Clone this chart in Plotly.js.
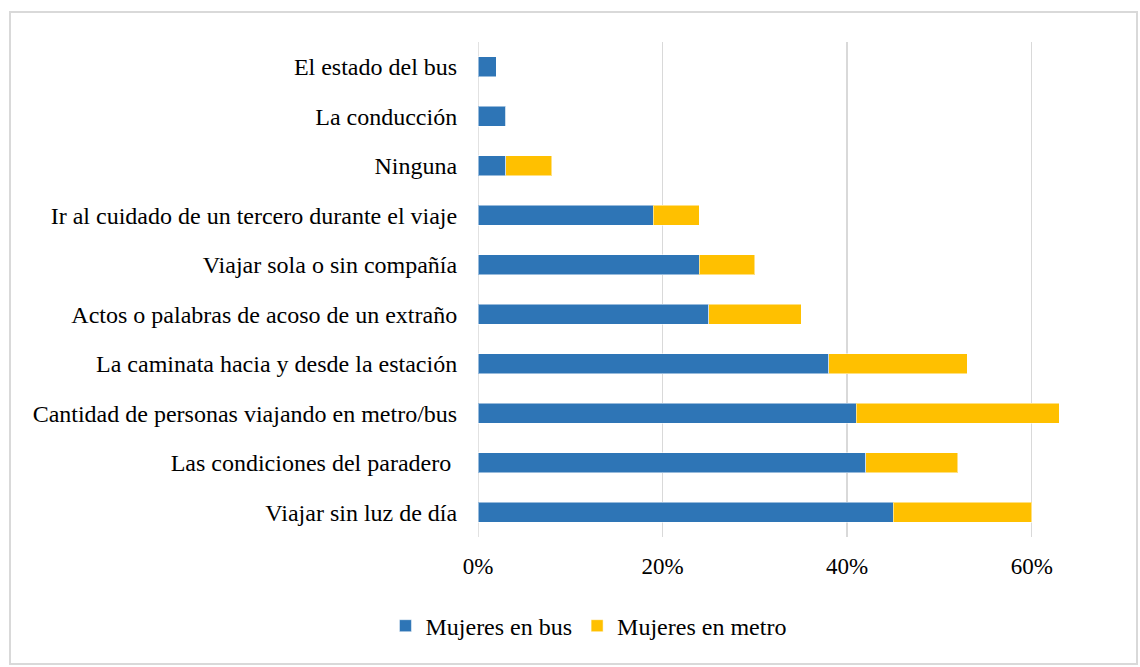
<!DOCTYPE html>
<html>
<head>
<meta charset="utf-8">
<script src="https://cdn.plot.ly/plotly-3.0.1.min.js"></script>
<style>
  html, body { margin: 0; padding: 0; background: #fff; }
  #wrap { position: relative; width: 1140px; height: 667px; }
  #chart { position: absolute; left: 0; top: 0; width: 1140px; height: 667px; }
  #frame { position: absolute; left: 9px; top: 11px; width: 1125px; height: 650px; border: 2px solid #d9d9d9; pointer-events: none; }
</style>
</head>
<body>
<div id="wrap">
  <div id="chart"></div>
  <div id="frame"></div>
</div>
<script>
const categories = [
  "Viajar sin luz de día",
  "Las condiciones del paradero\u00a0",
  "Cantidad de personas viajando en metro/bus",
  "La caminata hacia y desde la estación",
  "Actos o palabras de acoso de un extraño",
  "Viajar sola o sin compañía",
  "Ir al cuidado de un tercero durante el viaje",
  "Ninguna",
  "La conducción",
  "El estado del bus"
];
const busValues   = [0.45, 0.42, 0.41, 0.38, 0.25, 0.24, 0.19, 0.03, 0.03, 0.02];
const metroValues = [0.15, 0.10, 0.22, 0.15, 0.10, 0.06, 0.05, 0.05, 0.00, 0.00];
const xTickValues = [0, 0.2, 0.4, 0.6];
const xTickLabels = ["0%", "20%", "40%", "60%"];
const seriesNames = ["Mujeres en bus", "Mujeres en metro"];

const font = { family: "Liberation Serif, Times New Roman, serif", size: 24, color: "#000" };
const tickFontX = { family: "Liberation Serif, Times New Roman, serif", size: 23, color: "#000" };

const traces = [
  {
    type: "bar", orientation: "h", name: seriesNames[0],
    y: categories, x: busValues,
    marker: { color: "#2E75B6", line: { color: "rgba(255,255,255,0.5)", width: 1 } },
    hoverinfo: "x+y"
  },
  {
    type: "bar", orientation: "h", name: seriesNames[1],
    y: categories, x: metroValues,
    marker: { color: "#FFC000", line: { color: "rgba(255,255,255,0.5)", width: 1 } },
    hoverinfo: "x+y"
  }
];

const layout = {
  width: 1140, height: 667,
  margin: { l: 478, r: 16, t: 42, b: 130, autoexpand: false },
  barmode: "stack",
  bargap: 0.59,
  font: font,
  paper_bgcolor: "rgba(0,0,0,0)",
  plot_bgcolor: "rgba(0,0,0,0)",
  showlegend: true,
  legend: {
    orientation: "h", x: 0.171, xanchor: "center", y: -0.18, yanchor: "middle",
    font: font, traceorder: "normal", itemwidth: 30
  },
  xaxis: {
    range: [0, 0.7], tickvals: xTickValues, ticktext: xTickLabels,
    showgrid: true, gridcolor: "#d9d9d9", gridwidth: 1.5,
    zeroline: false, showline: false,
    ticks: "outside", ticklen: 8, tickcolor: "rgba(0,0,0,0)",
    tickfont: tickFontX, fixedrange: true
  },
  yaxis: {
    type: "category", showgrid: false, zeroline: false, showline: false,
    ticks: "outside", ticklen: 15, tickcolor: "rgba(0,0,0,0)",
    tickfont: font, fixedrange: true
  },
  shapes: [
    { type: "line", xref: "x", yref: "paper", x0: 0, x1: 0, y0: 0, y1: 1, line: { color: "#d9d9d9", width: 1.5 }, layer: "below" }
  ]
};

Plotly.newPlot("chart", traces, layout, { displayModeBar: false, staticPlot: true });
</script>
</body>
</html>
